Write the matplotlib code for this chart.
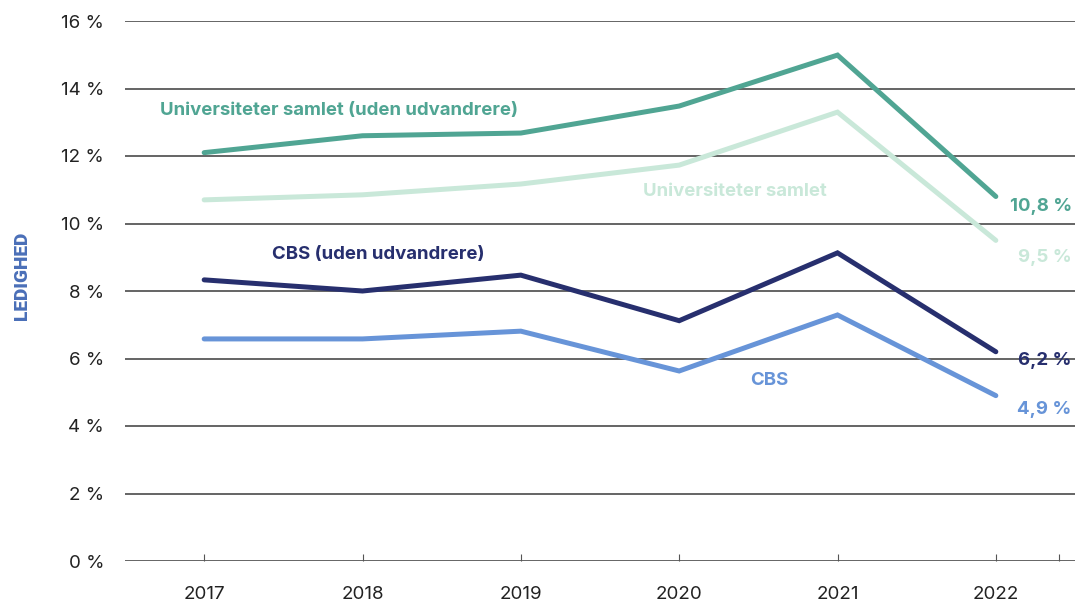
import matplotlib
matplotlib.use("Agg")
import matplotlib.pyplot as plt

years = [2017, 2018, 2019, 2020, 2021, 2022]
uni_uden = [12.1, 12.6, 12.68, 13.48, 14.99, 10.8]
uni = [10.7, 10.85, 11.17, 11.73, 13.3, 9.5]
cbs_uden = [8.33, 8.0, 8.47, 7.12, 9.13, 6.2]
cbs = [6.58, 6.58, 6.81, 5.63, 7.29, 4.9]

series_names = ["Universiteter samlet (uden udvandrere)", "Universiteter samlet",
                "CBS (uden udvandrere)", "CBS"]
end_labels = ["10,8 %", "9,5 %", "6,2 %", "4,9 %"]
colors = ["#50a593", "#c9e8d9", "#272f6e", "#6794d8"]

yticks = [0, 2, 4, 6, 8, 10, 12, 14, 16]
ytick_labels = ["0 %", "2 %", "4 %", "6 %", "8 %", "10 %", "12 %", "14 %", "16 %"]

plt.rcParams['font.family'] = ['Inter', 'DejaVu Sans']

fig = plt.figure(figsize=(10.76, 6.06), dpi=100)
ax = fig.add_axes([125/1076, 1-561/606, 950/1076, 540/606])

for gy in yticks:
    ax.axhline(gy, color="#3a3a3a", lw=1.1, zorder=1)

data = [uni_uden, uni, cbs_uden, cbs]
for vals, c in zip(data, colors):
    ax.plot(years, vals, color=c, lw=3.6, solid_capstyle='round', solid_joinstyle='miter', zorder=3)

ax.set_xlim(2016.5, 2022.5)
ax.set_ylim(0, 16)
ax.set_yticks(yticks)
ax.set_yticklabels(ytick_labels)
ax.set_xticks(years + [2022.4])
ax.set_xticklabels([str(y) for y in years] + [""])
ax.tick_params(axis='y', length=0, pad=15, labelsize=13.5, labelcolor="#222222")
ax.tick_params(axis='x', direction='in', length=5, width=0.8, color="#555555", pad=18,
               labelsize=13.5, labelcolor="#222222")
for s in ax.spines.values():
    s.set_visible(False)

# series labels (data coordinates)
lab_kw = dict(fontsize=13.4, fontweight='bold', va='center')
ax.text(2016.72, 13.36, series_names[0], color=colors[0], ha='left', **lab_kw)
ax.text(2019.77, 10.96, series_names[1], color=colors[1], ha='left', **lab_kw)
ax.text(2017.43, 9.07, series_names[2], color=colors[2], ha='left', **lab_kw)
ax.text(2020.45, 5.36, series_names[3], color=colors[3], ha='left', **lab_kw)

# end labels
end_y = [10.49, 9.0, 5.93, 4.5]
for lbl, yy, c in zip(end_labels, end_y, colors):
    ax.text(2022.48, yy, lbl, color=c, ha='right', **lab_kw)

fig.text(22/1076, 1-276/606, "LEDIGHED", rotation=90, ha='center', va='center',
         color="#4a6fb8", fontsize=13.8, fontweight='heavy',
         family=['Roboto', 'DejaVu Sans'], fontstretch='condensed')

fig.savefig("out.png", dpi=100)
